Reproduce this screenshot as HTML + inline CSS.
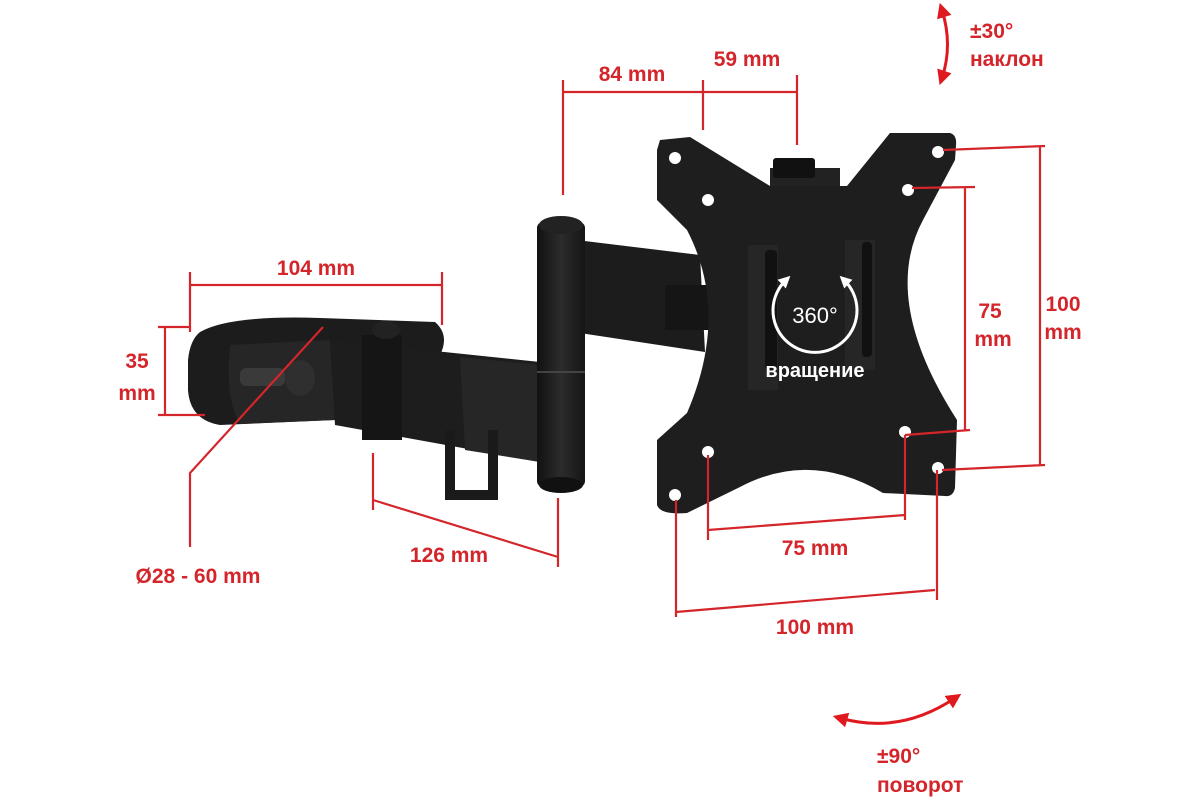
<!DOCTYPE html>
<html><head><meta charset="utf-8"><style>
html,body{margin:0;padding:0;background:#fff;}
svg{display:block;}
text{font-family:"Liberation Sans",sans-serif;font-weight:bold;fill:#d4252b;font-size:21px;}
</style></head><body>
<svg width="1200" height="800" viewBox="0 0 1200 800" xmlns="http://www.w3.org/2000/svg">
<defs>
<linearGradient id="g1" x1="0" x2="1"><stop offset="0" stop-color="#111"/><stop offset="0.5" stop-color="#2c2c2c"/><stop offset="1" stop-color="#151515"/></linearGradient>
<marker id="ah" viewBox="0 0 10 10" refX="5" refY="5" markerWidth="5" markerHeight="5" orient="auto-start-reverse"><path d="M0,0L10,5L0,10z" fill="#e0191f"/></marker>
<marker id="aw" viewBox="0 0 10 10" refX="5" refY="5" markerWidth="4" markerHeight="4" orient="auto-start-reverse"><path d="M0,0L10,5L0,10z" fill="#fff"/></marker>
</defs>

<!-- clamp -->
<path d="M200,332 Q230,315 320,318 L435,322 Q450,335 440,355 L335,420 L220,425 Q190,420 188,390 L188,360 Q190,340 200,332Z" fill="#1c1c1c"/>
<path d="M230,345 L330,340 L335,420 L240,424 Q225,400 230,345Z" fill="#262626"/>
<rect x="240" y="368" width="45" height="18" rx="6" fill="#3a3a3a"/>
<ellipse cx="300" cy="378" rx="15" ry="18" fill="#2f2f2f"/>
<!-- lower arm -->
<path d="M330,340 L540,362 L540,462 L335,425Z" fill="#1d1d1d"/>
<path d="M460,357 L540,365 L540,462 L465,450Z" fill="#262626"/>
<rect x="362" y="335" width="40" height="105" fill="#151515"/>
<ellipse cx="386" cy="330" rx="14" ry="9" fill="#222"/>
<path d="M445,430 L445,500 L498,500 L498,430 L488,430 L488,490 L455,490 L455,430Z" fill="#1a1a1a"/>
<!-- upper arm -->
<path d="M560,238 L700,255 L705,352 L560,330Z" fill="#1c1c1c"/>
<rect x="665" y="285" width="45" height="45" fill="#151515"/>
<!-- pivot column -->
<rect x="537" y="222" width="48" height="265" rx="6" fill="url(#g1)"/>
<ellipse cx="561" cy="225" rx="22" ry="9" fill="#222"/>
<ellipse cx="561" cy="485" rx="22" ry="8" fill="#111"/>
<line x1="537" y1="372" x2="585" y2="372" stroke="#444" stroke-width="2"/>
<!-- plate -->
<path d="M660,140 L690,137 L770,186 L847,186 L890,133 L950,133 Q957,135 956,145 L955,160 L923,220 Q880,300 957,420 L955,488 Q953,497 945,496 L883,493 Q810,450 740,487 L687,513 Q660,515 657,505 L657,440 L687,413 Q730,313 687,230 L657,200 L657,150Z" fill="#1e1e1e"/>
<rect x="770" y="168" width="70" height="18" fill="#222"/>
<rect x="773" y="158" width="42" height="20" rx="3" fill="#111"/>
<rect x="748" y="245" width="30" height="145" fill="#262626"/>
<rect x="765" y="250" width="12" height="120" rx="4" fill="#111"/>
<rect x="845" y="240" width="30" height="130" fill="#262626"/>
<rect x="862" y="242" width="10" height="115" rx="4" fill="#111"/>
<g fill="#fff">
<circle cx="675" cy="158" r="6"/><circle cx="938" cy="152" r="6"/>
<circle cx="708" cy="200" r="6"/><circle cx="908" cy="190" r="6"/>
<circle cx="708" cy="452" r="6"/><circle cx="905" cy="432" r="6"/>
<circle cx="675" cy="495" r="6"/><circle cx="938" cy="468" r="6"/>
</g>
<!-- 360 -->
<path d="M786,280 A42,42 0 1,0 844,280" fill="none" stroke="#fff" stroke-width="3" marker-start="url(#aw)" marker-end="url(#aw)"/>
<text x="815" y="323" text-anchor="middle" style="fill:#fff;font-size:22px;font-weight:normal">360°</text>
<text x="815" y="377" text-anchor="middle" style="fill:#fff;font-size:20px">вращение</text>

<!-- dimension lines -->
<g stroke="#d4252b" stroke-width="2.2" fill="none">
<path d="M563,92 H797 M563,80 V195 M703,80 V130 M797,75 V145"/>
<path d="M190,285 H442 M190,272 V332 M442,272 V325"/>
<path d="M165,327 V415 M158,327 H190 M158,415 H205"/>
<path d="M323,327 L190,473 V547"/>
<path d="M373,500 L558,557 M373,453 V510 M558,498 V567"/>
<path d="M708,530 L905,515 M708,455 V540 M905,435 V520 M905,435 L970,430"/>
<path d="M676,612 L935,590 M676,500 V617 M937,470 V600"/>
<path d="M965,187 V430 M912,188 L975,187"/>
<path d="M1040,147 V465 M943,150 L1045,146 M942,470 L1045,465"/>
</g>
<!-- rotation arrows -->
<path d="M942,10 Q953,45 942,78" fill="none" stroke="#e0191f" stroke-width="3" marker-start="url(#ah)" marker-end="url(#ah)"/>
<path d="M840,718 Q900,735 955,698" fill="none" stroke="#e0191f" stroke-width="3" marker-start="url(#ah)" marker-end="url(#ah)"/>

<!-- labels -->
<text x="632" y="81" text-anchor="middle">84 mm</text>
<text x="747" y="66" text-anchor="middle">59 mm</text>
<text x="316" y="275" text-anchor="middle">104 mm</text>
<text x="137" y="368" text-anchor="middle">35</text>
<text x="137" y="400" text-anchor="middle">mm</text>
<text x="198" y="583" text-anchor="middle">Ø28 - 60 mm</text>
<text x="449" y="562" text-anchor="middle">126 mm</text>
<text x="815" y="555" text-anchor="middle">75 mm</text>
<text x="815" y="634" text-anchor="middle">100 mm</text>
<text x="990" y="318" text-anchor="middle">75</text>
<text x="993" y="346" text-anchor="middle">mm</text>
<text x="1063" y="311" text-anchor="middle">100</text>
<text x="1063" y="339" text-anchor="middle">mm</text>
<text x="970" y="38">±30°</text>
<text x="970" y="66">наклон</text>
<text x="877" y="763">±90°</text>
<text x="877" y="792">поворот</text>
</svg>
</body></html>
